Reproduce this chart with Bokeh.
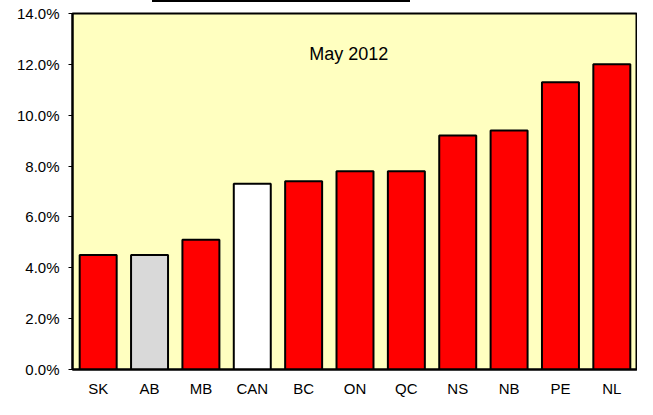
from bokeh.plotting import figure
from bokeh.models import ColumnDataSource, FixedTicker, PrintfTickFormatter, Label, Div, FactorRange, Range1d
from bokeh.layouts import column
from bokeh.embed import file_html
from bokeh.resources import INLINE

provinces = ["SK", "AB", "MB", "CAN", "BC", "ON", "QC", "NS", "NB", "PE", "NL"]
rates = [4.5, 4.5, 5.1, 7.3, 7.4, 7.8, 7.8, 9.2, 9.4, 11.3, 12.0]
colors = ["#FF0000", "#D9D9D9", "#FF0000", "#FFFFFF", "#FF0000", "#FF0000",
          "#FF0000", "#FF0000", "#FF0000", "#FF0000", "#FF0000"]
y_ticks = [0, 2, 4, 6, 8, 10, 12, 14]
subtitle = "May 2012"

FONT = "Liberation Sans"

src = ColumnDataSource(dict(x=provinces, y=rates, c=colors))

p = figure(x_range=FactorRange(*provinces, range_padding=0), y_range=Range1d(0, 14),
           width=637, height=397, output_backend="svg", toolbar_location=None,
           min_border_left=72, min_border_right=0, min_border_top=11, min_border_bottom=19)
p.background_fill_color = "#FFFFC0"
p.border_fill_color = "white"
p.outline_line_color = "black"
p.outline_line_width = 2
p.grid.visible = False

p.vbar(x="x", top="y", bottom=0, width=0.72, source=src, fill_color="c",
       line_color="black", line_width=2)

p.yaxis.ticker = FixedTicker(ticks=y_ticks)
p.yaxis.formatter = PrintfTickFormatter(format="%.1f%%")
p.yaxis.minor_tick_line_color = None
p.yaxis.major_tick_in = 0
p.yaxis.major_tick_out = 4
p.yaxis.major_tick_line_color = "black"
p.yaxis.axis_line_color = "black"
p.yaxis.axis_line_width = 2
p.yaxis.major_label_standoff = 9
p.yaxis.major_label_text_font = FONT
p.yaxis.major_label_text_font_size = "15px"
p.yaxis.major_label_text_color = "black"

p.xaxis.major_tick_line_color = None
p.xaxis.minor_tick_line_color = None
p.xaxis.axis_line_color = "black"
p.xaxis.axis_line_width = 2
p.xaxis.major_label_standoff = 4
p.xaxis.major_label_text_font = FONT
p.xaxis.major_label_text_font_size = "15px"
p.xaxis.major_label_text_color = "black"

p.add_layout(Label(x=5.38, y=12.41, text=subtitle, text_align="center", text_baseline="middle",
                   text_font=FONT, text_font_size="18px", text_color="black"))

bar = Div(width=258, height=2, margin=(0, 0, 0, 152), styles={"background-color": "black"})

layout = column(bar, p, spacing=0)
open("out.html", "w").write(file_html(layout, INLINE))
